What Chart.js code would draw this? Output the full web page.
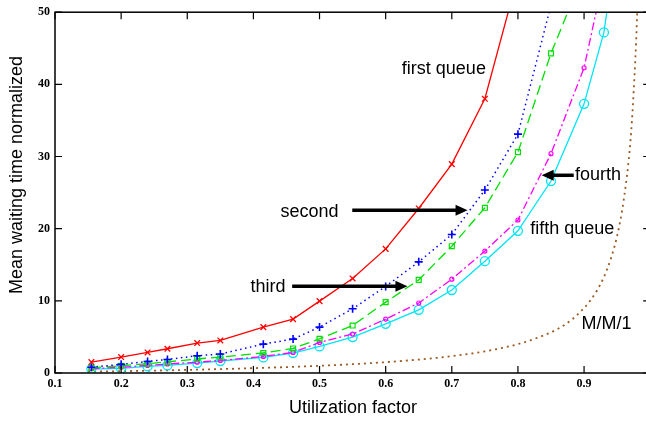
<!DOCTYPE html>
<html lang="en">
<head>
	<meta charset="UTF-8">
	<title>Mean waiting time vs utilization</title>
	<script src="https://cdn.jsdelivr.net/npm/chart.js"></script>
	<style>
		html, body { margin: 0; padding: 0; background: #fff; overflow: hidden; }
		#mainChart { display: block; }
	</style>
</head>
<body>
	<canvas id="mainChart" width="656" height="421"></canvas>

	<script>
		// utilization factor of the simulated points
		const utilization = [0.155, 0.2, 0.24, 0.27, 0.315, 0.35, 0.415, 0.46, 0.5, 0.55, 0.6, 0.65, 0.7, 0.75, 0.8, 0.85, 0.9, 0.93, 0.95]

		// normalized mean waiting time per queue
		const firstQueue = [1.52, 2.21, 2.85, 3.36, 4.15, 4.51, 6.36, 7.47, 9.96, 13.1, 17.2, 22.8, 28.95, 38.0, 55]
		const secondQueue = [0.8, 1.2, 1.6, 1.88, 2.39, 2.63, 4.0, 4.7, 6.36, 8.9, 12.0, 15.4, 19.2, 25.35, 33.1, 51]
		const thirdQueue = [0.7, 1.0, 1.3, 1.55, 1.94, 2.21, 2.77, 3.4, 4.74, 6.58, 9.82, 12.9, 17.57, 22.9, 30.6, 44.3, 55.5]
		const fourthQueue = [0.6, 0.8, 1.05, 1.25, 1.5, 1.74, 2.3, 2.85, 4.23, 5.4, 7.47, 9.7, 13.0, 16.9, 21.2, 30.4, 42.3, 55]
		const fifthQueue = [0.55, 0.64, 0.91, 1.05, 1.38, 1.66, 2.16, 2.77, 3.68, 4.98, 6.82, 8.75, 11.5, 15.5, 19.7, 26.6, 37.3, 47.2, 60]

		// M/M/1 reference curve
		const mm1Utilization = [0.15, 0.2, 0.25, 0.3, 0.35, 0.4, 0.45, 0.5, 0.55, 0.6, 0.65, 0.7, 0.75, 0.8, 0.83, 0.86, 0.88, 0.9, 0.91, 0.92, 0.93, 0.94, 0.95, 0.96, 0.97, 0.975, 0.98, 0.985]
		const mm1Wait = [0.18, 0.25, 0.33, 0.43, 0.54, 0.67, 0.82, 1.0, 1.22, 1.5, 1.86, 2.33, 3.0, 4.0, 4.9, 6.1, 7.3, 9.0, 10.1, 11.5, 13.3, 15.7, 19, 24, 32, 39, 49, 65]

		// text notes and arrows, in data coordinates
		const notes = [
			{text: "first queue", x: 0.688, y: 42.1},
			{text: "second", x: 0.485, y: 22.35},
			{text: "third", x: 0.422, y: 11.9},
			{text: "fourth", x: 0.921, y: 27.4},
			{text: "fifth queue", x: 0.882, y: 19.9},
			{text: "M/M/1", x: 0.934, y: 6.8}
		]
		const arrows = [
			{from: [0.5495, 22.55], to: [0.7238, 22.55]},
			{from: [0.4586, 12.03], to: [0.6329, 12.03]},
			{from: [0.8844, 27.4], to: [0.8359, 27.4]}
		]

		const toPoints = (xs, ys) => ys.map((y, i) => ({x: xs[i], y: y}))

		const tickFont = {family: "Liberation Serif", size: 12, weight: "bold"}
		const textFont = "18px 'Liberation Sans', Arial, sans-serif"

		const framePlugin = {
			id: "frame",
			afterDatasetsDraw(chart) {
				const {ctx, chartArea: a, scales: {x, y}} = chart
				ctx.save()
				// box
				ctx.strokeStyle = "#000"
				ctx.lineWidth = 1.5
				ctx.strokeRect(a.left, a.top, a.right - a.left, a.bottom - a.top)
				// inward ticks on all sides
				ctx.lineWidth = 1.2
				ctx.beginPath()
				x.ticks.forEach(t => {
					const px = x.getPixelForValue(t.value)
					ctx.moveTo(px, a.bottom); ctx.lineTo(px, a.bottom - 7)
					ctx.moveTo(px, a.top); ctx.lineTo(px, a.top + 7)
				})
				y.ticks.forEach(t => {
					const py = y.getPixelForValue(t.value)
					ctx.moveTo(a.left, py); ctx.lineTo(a.left + 7, py)
					ctx.moveTo(a.right, py); ctx.lineTo(a.right - 7, py)
				})
				ctx.stroke()

				// notes
				ctx.fillStyle = "#000"
				ctx.font = textFont
				ctx.textAlign = "center"
				ctx.textBaseline = "middle"
				notes.forEach(n => ctx.fillText(n.text, x.getPixelForValue(n.x), y.getPixelForValue(n.y)))

				// arrows
				arrows.forEach(ar => {
					const x1 = x.getPixelForValue(ar.from[0])
					const x2 = x.getPixelForValue(ar.to[0])
					const py = y.getPixelForValue(ar.from[1])
					const dir = Math.sign(x2 - x1)
					ctx.lineWidth = 3.5
					ctx.beginPath()
					ctx.moveTo(x1, py)
					ctx.lineTo(x2 - dir * 9, py)
					ctx.stroke()
					ctx.beginPath()
					ctx.moveTo(x2, py)
					ctx.lineTo(x2 - dir * 12, py - 5.5)
					ctx.lineTo(x2 - dir * 12, py + 5.5)
					ctx.closePath()
					ctx.fill()
				})

				// axis titles
				ctx.fillText("Utilization factor", 353, 408)
				ctx.translate(17, 175)
				ctx.rotate(-Math.PI / 2)
				ctx.fillText("Mean waiting time normalized", 0, 0)
				ctx.restore()
			}
		}

		const ctx = document.getElementById("mainChart")
		new Chart(ctx, {
			type: "line",
			data: {
				datasets: [
					{
						label: "first queue",
						data: toPoints(utilization, firstQueue),
						borderColor: "#ff0000",
						backgroundColor: "#ff0000",
						borderWidth: 1.3,
						pointStyle: "crossRot",
						pointRadius: 4,
						pointBorderWidth: 1.3
					},
					{
						label: "second",
						data: toPoints(utilization, secondQueue),
						borderColor: "#0000ff",
						backgroundColor: "#0000ff",
						borderWidth: 1.5,
						borderDash: [1.5, 3.5],
						pointStyle: "cross",
						pointRadius: 4,
						pointBorderWidth: 1.6
					},
					{
						label: "third",
						data: toPoints(utilization, thirdQueue),
						borderColor: "#00e000",
						backgroundColor: "transparent",
						borderWidth: 1.3,
						borderDash: [10, 5],
						pointStyle: "rect",
						pointRadius: 3.5,
						pointBorderWidth: 1.2
					},
					{
						label: "fourth",
						data: toPoints(utilization, fourthQueue),
						borderColor: "#ff00ff",
						backgroundColor: "transparent",
						borderWidth: 1.3,
						borderDash: [8, 3, 2, 3],
						pointStyle: "circle",
						pointRadius: 2,
						pointBorderWidth: 1.2
					},
					{
						label: "fifth queue",
						data: toPoints(utilization, fifthQueue),
						borderColor: "#00e5f5",
						backgroundColor: "transparent",
						borderWidth: 1.3,
						pointStyle: "circle",
						pointRadius: 4.5,
						pointBorderWidth: 1.3
					},
					{
						label: "M/M/1",
						data: toPoints(mm1Utilization, mm1Wait),
						borderColor: "#9c5a22",
						borderWidth: 1.8,
						borderDash: [2, 4],
						pointRadius: 0,
						cubicInterpolationMode: "monotone"
					}
				]
			},
			options: {
				responsive: false,
				animation: false,
				layout: {padding: {top: 12, right: 0, bottom: 0, left: 0}},
				plugins: {
					legend: {display: false},
					tooltip: {enabled: false}
				},
				scales: {
					x: {
						type: "linear",
						min: 0.1,
						max: 1.0,
						grid: {display: false, drawTicks: false},
						border: {display: false},
						ticks: {
							stepSize: 0.1,
							padding: 4,
							color: "#000",
							font: tickFont,
							maxRotation: 0,
							callback: value => value > 0.95 ? "" : value.toFixed(1)
						},
						afterFit: scale => { scale.height = 48 }
					},
					y: {
						min: 0,
						max: 50,
						grid: {display: false, drawTicks: false},
						border: {display: false},
						ticks: {
							stepSize: 10,
							padding: 5,
							color: "#000",
							font: tickFont
						},
						afterFit: scale => { scale.width = 55 }
					}
				}
			},
			plugins: [framePlugin]
		})
	</script>
</body>
</html>
